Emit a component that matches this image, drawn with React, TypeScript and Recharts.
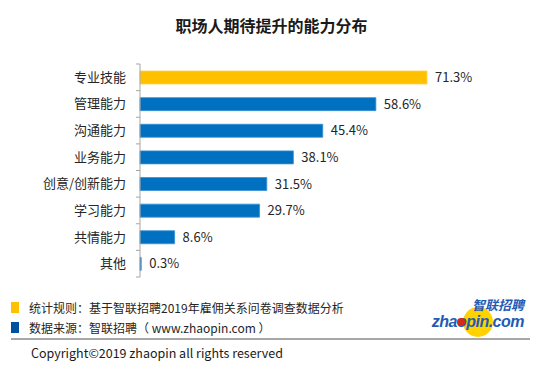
import React from 'react';
import { BarChart, Bar, XAxis, YAxis, Cell, LabelList } from 'recharts';

const categories = ['专业技能', '管理能力', '沟通能力', '业务能力', '创意/创新能力', '学习能力', '共情能力', '其他'];
const values = [71.3, 58.6, 45.4, 38.1, 31.5, 29.7, 8.6, 0.3];
const barColors = ['#FFC000', '#0070C0', '#0070C0', '#0070C0', '#0070C0', '#0070C0', '#0070C0', '#0070C0'];

const data = categories.map((name, i) => ({ name, value: values[i] }));

const FONT = '"Noto Sans CJK SC", "Noto Sans", sans-serif';
const TOP = 64;
const BOTTOM = 89;
const HEIGHT = 366;
const BAND = (HEIGHT - TOP - BOTTOM) / categories.length;

// category ticks sit between the bars, like the Excel original
function CategoryTick(props: any) {
  const { x, y, payload, index } = props;
  const axisX = x + 8;
  return (
    <g>
      <line x1={axisX - 4} x2={axisX} y1={y - BAND / 2} y2={y - BAND / 2} stroke="#a6a6a6" />
      {index === categories.length - 1 && (
        <line x1={axisX - 4} x2={axisX} y1={y + BAND / 2} y2={y + BAND / 2} stroke="#a6a6a6" />
      )}
      <text x={x - 6} y={y} dy={4.5} textAnchor="end" fontSize={13} fill="#262626" fontFamily={FONT}>
        {payload.value}
      </text>
    </g>
  );
}

export default function App() {
  return (
    <div style={{ position: 'absolute', left: 0, top: 0, width: 543, height: 366, background: '#fff', fontFamily: FONT }}>
      <div style={{ position: 'absolute', top: 13, width: 543, textAlign: 'center', fontSize: 16, fontWeight: 700, color: '#1a1a1a' }}>
        职场人期待提升的能力分布
      </div>

      <div style={{ position: 'absolute', left: 0, top: 0 }}>
        <BarChart
          width={543}
          height={HEIGHT}
          data={data}
          layout="vertical"
          margin={{ top: TOP, right: 81, bottom: BOTTOM, left: 0 }}
          barSize={13}
        >
          <XAxis type="number" domain={[0, 80]} hide />
          <YAxis
            type="category"
            dataKey="name"
            width={140}
            axisLine={{ stroke: '#a6a6a6' }}
            tickLine={false}
            tick={<CategoryTick />}
            interval={0}
          />
          <Bar dataKey="value" isAnimationActive={false}>
            {data.map((d, i) => (
              <Cell key={d.name} fill={barColors[i]} stroke={i === 0 ? '#FFD04D' : '#3A8FD3'} strokeWidth={0.8} />
            ))}
            <LabelList
              dataKey="value"
              position="right"
              offset={8}
              formatter={(v: any) => `${v}%`}
              style={{ fontSize: 13, fill: '#262626', fontFamily: FONT }}
            />
          </Bar>
        </BarChart>
      </div>

      <div style={{ position: 'absolute', left: 11, top: 302, width: 8, height: 11, background: '#FFC000' }} />
      <div style={{ position: 'absolute', left: 11, top: 322, width: 8, height: 11, background: '#0050A0' }} />
      <div style={{ position: 'absolute', left: 29, top: 299, fontSize: 12, color: '#262626', whiteSpace: 'nowrap' }}>
        统计规则：基于智联招聘2019年雇佣关系问卷调查数据分析
      </div>
      <div style={{ position: 'absolute', left: 29, top: 319, fontSize: 12, color: '#262626', whiteSpace: 'nowrap' }}>
        数据来源：智联招聘（ www.zhaopin.com ）
      </div>
      <div style={{ position: 'absolute', left: 11, top: 338, width: 519, height: 1.5, background: '#a6a6a6' }} />
      <div style={{ position: 'absolute', left: 31, top: 343, fontSize: 12.5, color: '#1a1a1a', whiteSpace: 'nowrap' }}>
        Copyright©2019 zhaopin all rights reserved
      </div>

      <svg style={{ position: 'absolute', left: 420, top: 294 }} width={115} height={44}>
        <circle cx={58} cy={28} r={15} fill="#FFD200" />
        <text x={104} y={16} textAnchor="end" fontSize={13} fontWeight={700} fontStyle="italic" fill="#1F5BB5" fontFamily={FONT}>
          智联招聘
        </text>
        <text x={104} y={33} textAnchor="end" fontSize={16} fontWeight={700} fontStyle="italic" fill="#1F5BB5" fontFamily="Liberation Sans, Arial, sans-serif" letterSpacing={-0.5}>
          zhaopin.com
        </text>
        <circle cx={41} cy={28} r={4} fill="#D42A1E" />
      </svg>
    </div>
  );
}
